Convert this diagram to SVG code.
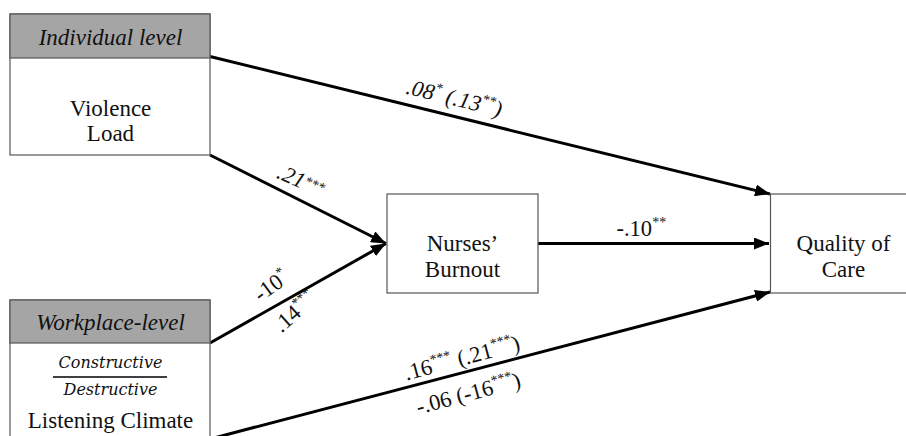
<svg xmlns="http://www.w3.org/2000/svg" width="906" height="436" viewBox="0 0 906 436">
<defs>
<marker id="arrowhead" markerUnits="userSpaceOnUse" markerWidth="16" markerHeight="12" refX="15" refY="6" orient="auto">
<path d="M0,0 L15,6 L0,12 z" fill="#000"/>
</marker>
<style>
.box{fill:#fff;stroke:#555;stroke-width:1.2}
.hdr{fill:#a5a5a5;stroke:#555;stroke-width:1.2}
.c{fill:none;stroke:#000;stroke-width:3;marker-end:url(#arrowhead)}
</style>
</defs>
<rect width="906" height="436" fill="#fff"/>
<g id="connectors">
<line class="c" x1="210" y1="56.5" x2="770" y2="194"/>
<line class="c" x1="210" y1="155" x2="386" y2="243.5"/>
<line class="c" x1="210" y1="343" x2="386" y2="243.5"/>
<line class="c" x1="538" y1="243.5" x2="769" y2="243.5"/>
<line class="c" x1="210" y1="439" x2="770" y2="292"/>
</g>
<g id="labels" fill="#111">
<text font-family="'Liberation Serif', 'Times New Roman', serif" font-size="22.5" font-style="italic" transform="rotate(13.8 405 93.5)" x="405" y="93.5">.08<tspan font-size="14" dy="-9">*</tspan><tspan dy="9"> (.13</tspan><tspan font-size="14" dy="-9">**</tspan><tspan dy="9">)</tspan></text>
<text font-family="'Liberation Serif', 'Times New Roman', serif" font-size="22.5" font-style="italic" transform="rotate(24 275.5 177.5)" x="275.5" y="177.5">.21<tspan font-size="14" dy="-5">***</tspan></text>
<text font-family="'Liberation Serif', 'Times New Roman', serif" font-size="22.5" transform="rotate(-36 260.5 302.5)" x="260.5" y="302.5">-10<tspan font-size="14" dy="-9">*</tspan></text>
<text font-family="'Liberation Serif', 'Times New Roman', serif" font-size="22.5" transform="rotate(-42 281.5 333.5)" x="281.5" y="333.5">.14<tspan font-size="14" dy="-9">***</tspan></text>
<text font-family="'Liberation Serif', 'Times New Roman', serif" font-size="22.5" x="616.5" y="235.5">-.10<tspan font-size="14" dy="-9">**</tspan></text>
<text font-family="'Liberation Serif', 'Times New Roman', serif" font-size="22.5" transform="rotate(-15 406.5 380.5)" x="406.5" y="380.5">.16<tspan font-size="14" dy="-9">***</tspan><tspan dy="9"> (.21</tspan><tspan font-size="14" dy="-9">***</tspan><tspan dy="9">)</tspan></text>
<text font-family="'Liberation Serif', 'Times New Roman', serif" font-size="22.5" transform="rotate(-15 418.5 414.5)" x="418.5" y="414.5">-.06 (-16<tspan font-size="14" dy="-9">***</tspan><tspan dy="9">)</tspan></text>
</g>
<g id="individual" fill="#111" text-anchor="middle">
<rect class="box" x="10" y="14" width="200" height="141"/>
<rect class="hdr" x="10" y="14" width="200" height="44"/>
<text font-family="'Liberation Serif', 'Times New Roman', serif" font-size="23" font-style="italic" x="110.5" y="44.5">Individual level</text>
<text font-family="'Liberation Serif', 'Times New Roman', serif" font-size="23" x="110.5" y="115.5">Violence</text>
<text font-family="'Liberation Serif', 'Times New Roman', serif" font-size="23" x="110.5" y="140.5">Load</text>
</g>
<g id="workplace" fill="#111" text-anchor="middle">
<rect class="box" x="10" y="300" width="200" height="150"/>
<rect class="hdr" x="10" y="300" width="200" height="43"/>
<text font-family="'Liberation Serif', 'Times New Roman', serif" font-size="23" font-style="italic" x="110.5" y="329.5">Workplace-level</text>
<text font-family="'DejaVu Serif', serif" font-style="italic" font-size="16" x="110.5" y="367.5">Constructive</text>
<line x1="53" y1="377" x2="167" y2="377" stroke="#000" stroke-width="1.5"/>
<text font-family="'DejaVu Serif', serif" font-style="italic" font-size="16" x="110.5" y="394.5">Destructive</text>
<text font-family="'Liberation Serif', 'Times New Roman', serif" font-size="23" x="110.5" y="427.5">Listening Climate</text>
</g>
<g id="burnout" fill="#111" text-anchor="middle">
<rect class="box" x="387" y="194" width="151" height="99"/>
<text font-family="'Liberation Serif', 'Times New Roman', serif" font-size="23" x="462.5" y="250.5">Nurses&#8217;</text>
<text font-family="'Liberation Serif', 'Times New Roman', serif" font-size="23" x="462.5" y="276.5">Burnout</text>
</g>
<g id="quality" fill="#111" text-anchor="middle">
<rect class="box" x="770.5" y="194" width="150" height="99"/>
<text font-family="'Liberation Serif', 'Times New Roman', serif" font-size="23" x="843.5" y="250.5">Quality of</text>
<text font-family="'Liberation Serif', 'Times New Roman', serif" font-size="23" x="843.5" y="276.5">Care</text>
</g>
</svg>
